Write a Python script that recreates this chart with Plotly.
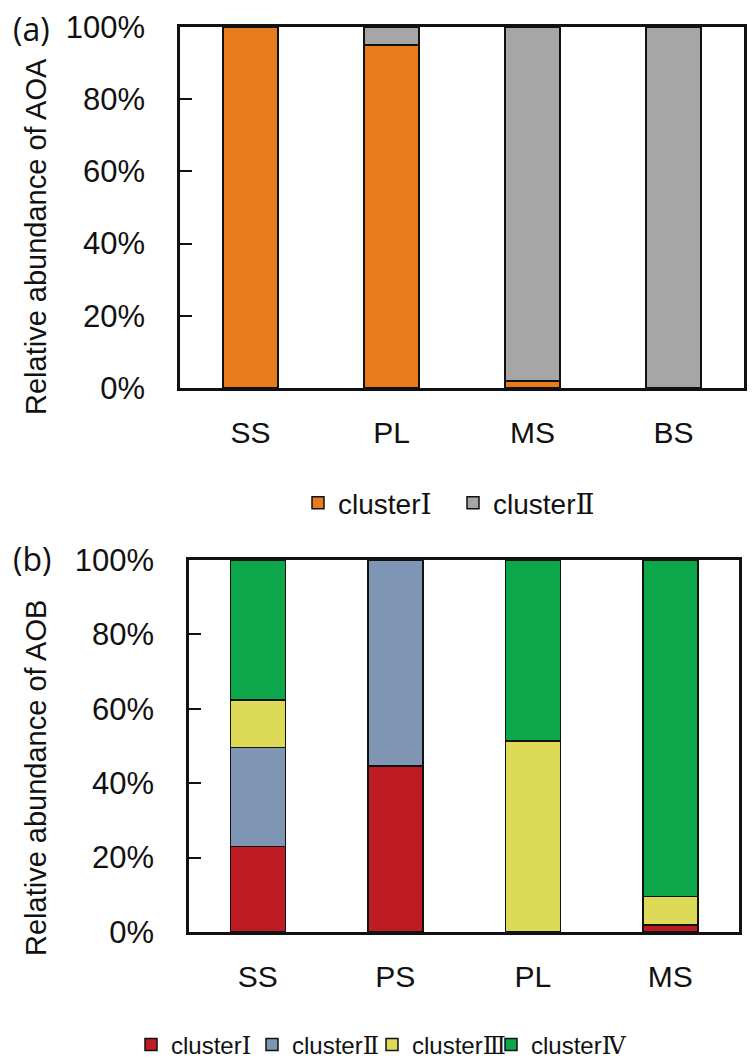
import plotly.graph_objects as go

# Panel (a): AOA community composition (%)
aoa_sites = ["SS", "PL", "MS", "BS"]
aoa_cluster1 = [100, 95, 2, 0]
aoa_cluster2 = [0, 5, 98, 100]

# Panel (b): AOB community composition (%)
aob_sites = ["SS", "PS", "PL", "MS"]
aob_cluster1 = [23, 44.6, 0, 1.9]
aob_cluster2 = [26.6, 55.4, 0, 0]
aob_cluster3 = [12.8, 0, 51.4, 7.6]
aob_cluster4 = [37.6, 0, 48.6, 90.5]

pct_ticks = [0, 20, 40, 60, 80, 100]
pct_labels = ["0%", "20%", "40%", "60%", "80%", "100%"]

# Roman numerals set in a serif face, as in the figure legend
ROMAN = "<span style='font-family:\"DejaVu Serif\", serif'>{}</span>"
aoa_names = ["cluster" + ROMAN.format("\u2160"), "cluster" + ROMAN.format("\u2161")]
aob_names = ["cluster" + ROMAN.format(r) for r in ["\u2160", "\u2161", "\u2162", "\u2163"]]
aoa_colors = ["#E97B1F", "#A6A6A6"]
aob_colors = ["#BE1B22", "#7E96B3", "#DCDA57", "#0CA74A"]
# each AOB entry gets its own legend box, evenly spaced along the bottom row
aob_legends = ["legend2", "legend3", "legend4", "legend5"]
aob_legend_x = [131, 252, 372, 491]

W, H = 755, 1061
FONT = "Liberation Sans, Arial, sans-serif"
BAR_LINE = dict(color="#111111", width=1.5)

fig = go.Figure()

for name, vals, col in zip(aoa_names, [aoa_cluster1, aoa_cluster2], aoa_colors):
    fig.add_trace(go.Bar(
        x=aoa_sites, y=vals, name=name, marker=dict(color=col, line=BAR_LINE),
        width=0.39, xaxis="x", yaxis="y", legend="legend",
    ))

for name, vals, col, lg in zip(aob_names,
                               [aob_cluster1, aob_cluster2, aob_cluster3, aob_cluster4],
                               aob_colors, aob_legends):
    fig.add_trace(go.Bar(
        x=aob_sites, y=vals, name=name, marker=dict(color=col, line=BAR_LINE),
        width=0.4, xaxis="x2", yaxis="y2", legend=lg,
    ))


def px_x(v):
    return v / W


def px_y(v):
    return 1 - v / H


yaxis_common = dict(
    range=[0, 100], tickvals=pct_ticks, ticktext=pct_labels,
    ticks="inside", ticklen=12, tickwidth=1.5, tickcolor="#111111",
    showline=True, linecolor="#111111", linewidth=2.5, mirror=True,
    showgrid=False, zeroline=False, ticklabelstandoff=26,
    tickfont=dict(family=FONT, size=31, color="#111111"), fixedrange=True,
)
xaxis_common = dict(
    showline=True, linecolor="#111111", linewidth=2.5, mirror=True,
    ticks="", showgrid=False, zeroline=False, ticklabelstandoff=16,
    tickfont=dict(family=FONT, size=30, color="#111111"), fixedrange=True,
)
legend_common = dict(
    orientation="h", yanchor="middle", xanchor="left", traceorder="normal",
    bgcolor="rgba(0,0,0,0)", itemclick=False, itemdoubleclick=False,
)

layout = dict(
    width=W, height=H, margin=dict(l=0, r=0, t=0, b=0, autoexpand=False),
    paper_bgcolor="white", plot_bgcolor="white", barmode="stack",
    xaxis=dict(domain=[px_x(180), px_x(744)], anchor="y", **xaxis_common),
    yaxis=dict(domain=[px_y(388), px_y(27)], anchor="x", **yaxis_common),
    xaxis2=dict(domain=[px_x(189), px_x(739)], anchor="y2", **xaxis_common),
    yaxis2=dict(domain=[px_y(932), px_y(560)], anchor="x2", **yaxis_common),
    legend=dict(
        x=px_x(298), y=px_y(503), entrywidth=110,
        font=dict(family=FONT, size=28, color="#111111"), **legend_common,
    ),
    showlegend=True,
)
for lg, lx in zip(aob_legends, aob_legend_x):
    layout[lg] = dict(
        x=px_x(lx), y=px_y(1045),
        font=dict(family=FONT, size=24, color="#111111"), **legend_common,
    )
fig.update_layout(**layout)

# Y-axis titles and panel tags
titles = [("Relative abundance of AOA", 237), ("Relative abundance of AOB", 778)]
for text, yc in titles:
    fig.add_annotation(
        text=text, textangle=-90, x=px_x(36), y=px_y(yc), xref="paper", yref="paper",
        xanchor="center", yanchor="middle", showarrow=False,
        font=dict(family=FONT, size=29, color="#111111"),
    )
for tag, yc in [("(a)", 28), ("(b)", 558)]:
    fig.add_annotation(
        text=tag, x=px_x(11), y=px_y(yc), xref="paper", yref="paper",
        xanchor="left", yanchor="middle", showarrow=False,
        font=dict(family="Open Sans, sans-serif", size=32, color="#111111"),
    )

fig.write_html("out.html")
